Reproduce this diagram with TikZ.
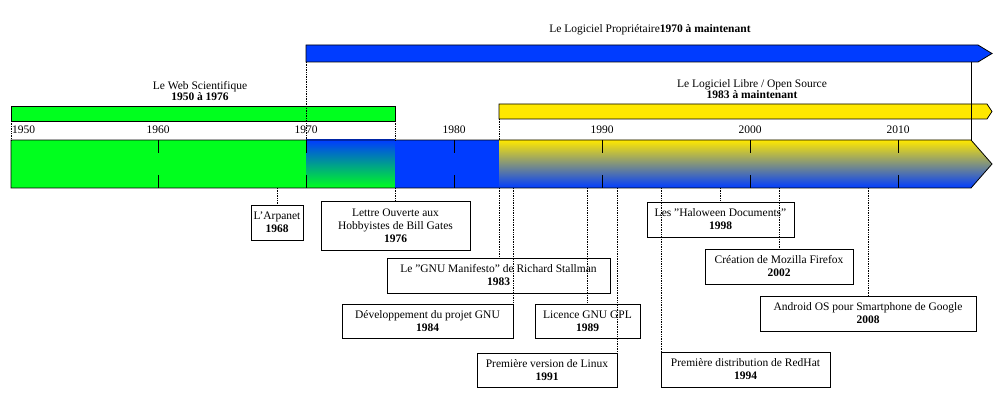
\documentclass[tikz,border=0pt]{standalone}
\usepackage{fontspec}
\setmainfont{Liberation Serif}
\begin{document}
\begin{tikzpicture}[x=1pt,y=-1pt,font=\fontsize{11.5}{13}\selectfont,
  ev/.style={draw,fill=white,align=center,inner sep=0pt,line width=0.8pt},
  dot/.style={densely dotted,line width=0.7pt},
  bar/.style={draw,line width=0.8pt}]
\useasboundingbox (0,0) rectangle (997,403);
\definecolor{gg}{RGB}{0,255,30}
\definecolor{bb}{RGB}{0,60,255}
\definecolor{yy}{RGB}{255,232,0}
% top bars
\draw[bar,fill=bb] (306,45) -- (978,45) -- (992,53.5) -- (978,62) -- (306,62) -- cycle;
\node (prop) at (650,30) {Le Logiciel Propriétaire\\[-2pt]\textbf{1970 à maintenant}};
\node[align=center] at (650,30) {};
\draw[bar,fill=gg] (11,106) rectangle (395,121);
\node[align=center] (web) at (200,91) {Le Web Scientifique\\[-2pt]\textbf{1950 à 1976}};
\draw[bar,fill=yy] (499,104) -- (987,104) -- (992,111.5) -- (987,119) -- (499,119) -- cycle;
\node[align=center] (lib) at (752,89) {Le Logiciel Libre / Open Source\\[-2pt]\textbf{1983 à maintenant}};
% main bar fills
\fill[gg] (11,140) rectangle (306,188);
\shade[top color=bb,bottom color=gg] (306,140) rectangle (395,188);
\fill[bb] (395,140) rectangle (499,188);
\shade[top color=yy,bottom color=bb] (499,140) -- (971,140) -- (992,164) -- (971,188) -- (499,188) -- cycle;
\draw[line width=0.8pt] (11,140) -- (971,140) -- (992,164) -- (971,188) -- (11,188) -- cycle;
% ticks and years
\foreach \x/\y in {158/1960,306/1970,454/1980,602/1990,750/2000,898/2010}{
  \draw[line width=0.8pt] (\x,140) -- (\x,153) (\x,175) -- (\x,188);
  \node at (\x,130) {\y};}
\node[anchor=west,inner sep=1pt] at (11,130) {1950};
\draw[dot] (11,121) -- (11,140);
\draw[dot] (306,62) -- (306,140);
\draw[dot] (395,121) -- (395,140);
\draw[dot] (499,119) -- (499,140);
\draw[line width=0.8pt] (971,62) -- (971,140);
% events
\newcommand{\ev}[7]{\node[ev,minimum width=#3-#2,minimum height=#5-#4] (#6) at ({(#2+#3)/2},{(#4+#5)/2}) {#7};}
\ev{0}{251}{303}{205}{240}{arpa}{L'Arpanet\\\textbf{1968}}
\ev{0}{321}{470}{201}{250}{lettre}{Lettre Ouverte aux\\Hobbyistes de Bill Gates\\\textbf{1976}}
\ev{0}{387}{610}{258}{293}{gnum}{Le "GNU Manifesto" de Richard Stallman\\\textbf{1983}}
\ev{0}{342}{513}{304}{338}{gnud}{Développement du projet GNU\\\textbf{1984}}
\ev{0}{535}{640}{304}{338}{gpl}{Licence GNU GPL\\\textbf{1989}}
\ev{0}{477}{617}{353}{387}{linux}{Première version de Linux\\\textbf{1991}}
\ev{0}{647}{794}{202}{237}{hal}{Les "Haloween Documents"\\\textbf{1998}}
\ev{0}{705}{853}{249}{284}{moz}{Création de Mozilla Firefox\\\textbf{2002}}
\ev{0}{760}{976}{296}{331}{andr}{Android OS pour Smartphone de Google\\\textbf{2008}}
\ev{0}{661}{830}{352}{387}{rh}{Première distribution de RedHat\\\textbf{1994}}
% connectors
\foreach \x/\n in {277/arpa,395/lettre,499/gnum,513/gnud,587/gpl,617/linux,661/rh,720/hal,779/moz,868/andr}{
  \coordinate (t\n) at (\x,188);
  \draw[dot] (t\n) -- (t\n |- \n.north);}
\end{tikzpicture}
\end{document}
